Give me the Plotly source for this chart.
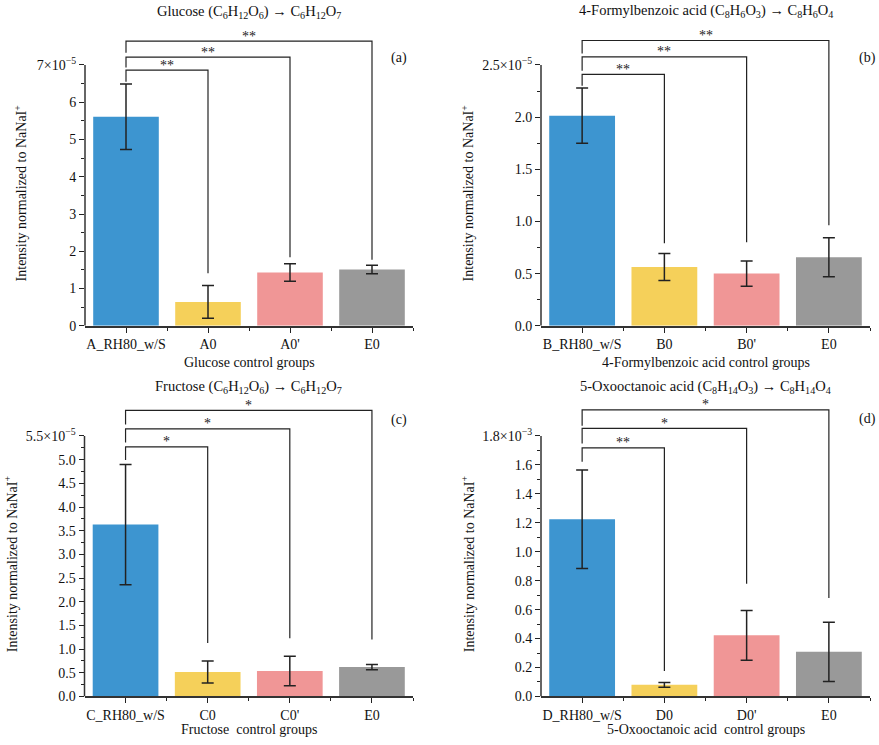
import plotly.graph_objects as go

FONT = "Liberation Serif"
INK = "#222222"
W, H = 879, 745
BAR_COLORS = ["#3d95d0", "#f5d05a", "#f09696", "#999999"]

# (a) Glucose, values in units of 1e-5
glu_groups = ["A_RH80_w/S", "A0", "A0'", "E0"]
glu_mean = [5.61, 0.64, 1.43, 1.51]
glu_err = [0.88, 0.44, 0.235, 0.115]
glu_stars = ["**", "**", "**"]
glu_levels = [6.86, 7.21, 7.64]
glu_leg_left = [6.55, 6.93, 7.33]
glu_leg_right = [1.41, 1.84, 1.77]
glu_ticks = [0, 1, 2, 3, 4, 5, 6, 7]
glu_ticktext = ["0", "1", "2", "3", "4", "5", "6", "7×10<sup>−5</sup>"]
glu_minor = [0.5, 1.5, 2.5, 3.5, 4.5, 5.5, 6.5]

# (b) 4-Formylbenzoic acid, units of 1e-5
fba_groups = ["B_RH80_w/S", "B0", "B0'", "E0"]
fba_mean = [2.014, 0.563, 0.50, 0.657]
fba_err = [0.265, 0.13, 0.12, 0.187]
fba_stars = ["**", "**", "**"]
fba_levels = [2.41, 2.577, 2.735]
fba_leg_left = [2.30, 2.444, 2.61]
fba_leg_right = [0.79, 0.80, 0.964]
fba_ticks = [0, 0.5, 1.0, 1.5, 2.0, 2.5]
fba_ticktext = ["0.0", "0.5", "1.0", "1.5", "2.0", "2.5×10<sup>−5</sup>"]
fba_minor = [0.25, 0.75, 1.25, 1.75, 2.25]

# (c) Fructose, units of 1e-5
fru_groups = ["C_RH80_w/S", "C0", "C0'", "E0"]
fru_mean = [3.63, 0.516, 0.537, 0.62]
fru_err = [1.27, 0.23, 0.31, 0.055]
fru_stars = ["*", "*", "*"]
fru_levels = [5.27, 5.65, 6.04]
fru_leg_left = [4.99, 5.36, 5.74]
fru_leg_right = [1.13, 1.23, 1.20]
fru_ticks = [0, 0.5, 1.0, 1.5, 2.0, 2.5, 3.0, 3.5, 4.0, 4.5, 5.0, 5.5]
fru_ticktext = ["0.0", "0.5", "1.0", "1.5", "2.0", "2.5", "3.0", "3.5",
                "4.0", "4.5", "5.0", "5.5×10<sup>−5</sup>"]
fru_minor = [0.25, 0.75, 1.25, 1.75, 2.25, 2.75, 3.25, 3.75, 4.25, 4.75, 5.25]

# (d) 5-Oxooctanoic acid, units of 1e-3
oxo_groups = ["D_RH80_w/S", "D0", "D0'", "E0"]
oxo_mean = [1.224, 0.08, 0.422, 0.308]
oxo_err = [0.34, 0.016, 0.172, 0.204]
oxo_stars = ["**", "*", "*"]
oxo_levels = [1.718, 1.852, 1.98]
oxo_leg_left = [1.622, 1.748, 1.871]
oxo_leg_right = [0.176, 0.779, 0.681]
oxo_ticks = [0, 0.2, 0.4, 0.6, 0.8, 1.0, 1.2, 1.4, 1.6, 1.8]
oxo_ticktext = ["0.0", "0.2", "0.4", "0.6", "0.8", "1.0", "1.2", "1.4",
                "1.6", "1.8×10<sup>−3</sup>"]
oxo_minor = [0.1, 0.3, 0.5, 0.7, 0.9, 1.1, 1.3, 1.5, 1.7]

titles = [
    "Glucose (C<sub>6</sub>H<sub>12</sub>O<sub>6</sub>) → C<sub>6</sub>H<sub>12</sub>O<sub>7</sub>",
    "4-Formylbenzoic acid (C<sub>8</sub>H<sub>6</sub>O<sub>3</sub>) → C<sub>8</sub>H<sub>6</sub>O<sub>4</sub>",
    "Fructose (C<sub>6</sub>H<sub>12</sub>O<sub>6</sub>) → C<sub>6</sub>H<sub>12</sub>O<sub>7</sub>",
    "5-Oxooctanoic acid (C<sub>8</sub>H<sub>14</sub>O<sub>3</sub>) → C<sub>8</sub>H<sub>14</sub>O<sub>4</sub>",
]
xtitles = [
    "Glucose control groups",
    "4-Formylbenzoic acid control groups",
    "Fructose  control groups",
    "5-Oxooctanoic acid  control groups",
]
tags = ["(a)", "(b)", "(c)", "(d)"]
ytitle = "Intensity normalized to NaNaI<sup>+</sup>"

panels = [
    (glu_groups, glu_mean, glu_err, glu_stars, glu_levels, glu_leg_left,
     glu_leg_right, glu_ticks, glu_ticktext, glu_minor),
    (fba_groups, fba_mean, fba_err, fba_stars, fba_levels, fba_leg_left,
     fba_leg_right, fba_ticks, fba_ticktext, fba_minor),
    (fru_groups, fru_mean, fru_err, fru_stars, fru_levels, fru_leg_left,
     fru_leg_right, fru_ticks, fru_ticktext, fru_minor),
    (oxo_groups, oxo_mean, oxo_err, oxo_stars, oxo_levels, oxo_leg_left,
     oxo_leg_right, oxo_ticks, oxo_ticktext, oxo_minor),
]

# pixel layout: plot left/right, x-axis y, top tick y, domain top, title y,
# x title y, y title x, tag right edge / y
boxes = [
    dict(x0=85, x1=413, yb=329.3, yt=65.7, yd=25, ttl=12, xt=366, yx=21, tag=(409, 59)),
    dict(x0=541, x1=870, yb=329.3, yt=65.7, yd=25, ttl=11, xt=366, yx=468, tag=(878, 59)),
    dict(x0=84.5, x1=413, yb=704, yt=440.7, yd=400, ttl=391, xt=737, yx=11, tag=(409, 425)),
    dict(x0=541, x1=870, yb=704, yt=440.7, yd=400, ttl=391, xt=737, yx=468, tag=(878, 424)),
]


def px(x):
    return x / W


def py(y):
    return 1 - y / H


fig = go.Figure()
shapes = []
annotations = []
layout = {}

for i, (groups, mean, err, stars, levels, leg_l, leg_r, ticks, ticktext,
        minor) in enumerate(panels):
    n = i + 1
    xa = "x" if n == 1 else f"x{n}"
    ya = "y" if n == 1 else f"y{n}"
    b = boxes[i]
    top = ticks[-1]
    ymax = top * (b["yb"] - b["yd"]) / (b["yb"] - b["yt"])
    xs = list(range(len(groups)))

    fig.add_trace(go.Bar(
        x=xs, y=mean, xaxis=xa, yaxis=ya, width=0.8,
        marker=dict(color=BAR_COLORS, line=dict(width=0)),
        error_y=dict(type="data", array=err, visible=True, color=INK,
                     thickness=1.5, width=6),
        showlegend=False, hoverinfo="skip",
    ))

    layout["xaxis" if n == 1 else f"xaxis{n}"] = dict(
        domain=[px(b["x0"]), px(b["x1"])], anchor=ya, range=[-0.5, 3.5],
        tickmode="array", tickvals=xs, ticktext=groups,
        ticks="outside", ticklen=5, tickwidth=1.3, tickcolor=INK,
        minor=dict(tickvals=[0.5, 1.5, 2.5, 3.5], ticks="outside", ticklen=3,
                   tickwidth=1.2, tickcolor=INK),
        showline=True, linecolor="#333333", linewidth=1.5,
        showgrid=False, zeroline=False, fixedrange=True,
        tickfont=dict(family=FONT, size=14, color="#111"),
    )
    layout["yaxis" if n == 1 else f"yaxis{n}"] = dict(
        domain=[py(b["yb"]), py(b["yd"])], anchor=xa, range=[0, ymax],
        tickmode="array", tickvals=ticks, ticktext=ticktext,
        ticks="outside", ticklen=5, tickwidth=1.3, tickcolor=INK,
        minor=dict(tickvals=minor, ticks="outside", ticklen=3,
                   tickwidth=1.2, tickcolor=INK),
        showline=False, showgrid=False, zeroline=False, fixedrange=True,
        tickfont=dict(family=FONT, size=14, color="#111"),
    )

    # left y-axis line stops at the top tick
    shapes.append(dict(type="line", xref=f"{xa} domain", yref=ya,
                       x0=0, x1=0, y0=0, y1=top,
                       line=dict(color="#333333", width=1.5)))

    # significance brackets
    for k, (lvl, star) in enumerate(zip(levels, stars)):
        tgt = k + 1
        path = (f"M 0,{leg_l[k]} L 0,{lvl} L {tgt},{lvl} L {tgt},{leg_r[k]}")
        shapes.append(dict(type="path", xref=xa, yref=ya, path=path,
                           line=dict(color=INK, width=1.2)))
        annotations.append(dict(
            xref=xa, yref=ya, x=tgt / 2, y=lvl, text=star, showarrow=False,
            yanchor="middle", yshift=5,
            font=dict(family=FONT, size=14, color=INK)))

    cx = (b["x0"] + b["x1"]) / 2
    annotations.append(dict(
        xref="paper", yref="paper", x=px(cx), y=py(b["ttl"]), text=titles[i],
        showarrow=False, xanchor="center", yanchor="middle",
        font=dict(family=FONT, size=14.5, color="#111")))
    annotations.append(dict(
        xref="paper", yref="paper", x=px(cx), y=py(b["xt"]), text=xtitles[i],
        showarrow=False, xanchor="center", yanchor="middle",
        font=dict(family=FONT, size=14, color="#111")))
    annotations.append(dict(
        xref="paper", yref="paper", x=px(b["yx"]),
        y=py((b["yb"] + b["yt"]) / 2 - 2), text=ytitle, textangle=-90,
        showarrow=False, xanchor="center", yanchor="middle",
        font=dict(family=FONT, size=14, color="#111")))
    annotations.append(dict(
        xref="paper", yref="paper", x=px(b["tag"][0]), y=py(b["tag"][1]),
        text=tags[i], showarrow=False, xanchor="right", yanchor="middle",
        font=dict(family=FONT, size=14, color="#111")))

fig.update_layout(
    width=W, height=H,
    margin=dict(l=0, r=0, t=0, b=0),
    paper_bgcolor="white", plot_bgcolor="white",
    font=dict(family=FONT, size=14, color="#111"),
    shapes=shapes, annotations=annotations,
    **layout,
)

# the page's default body margin would push the figure off the window
fig.write_html("out.html", config={"displayModeBar": False},
               post_script="document.body.style.margin = '0';")
